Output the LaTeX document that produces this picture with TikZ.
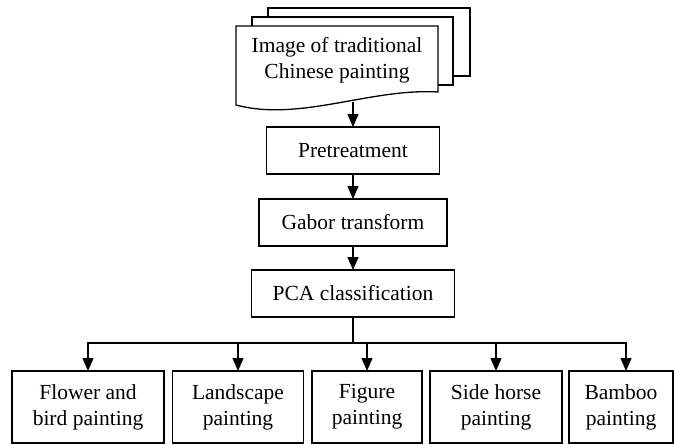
\documentclass[tikz,border=0pt]{standalone}
\usepackage{fontspec}
\setmainfont{Liberation Serif}
\usepackage{tikz}
\usetikzlibrary{arrows.meta}
\usetikzlibrary{positioning}

\tikzset{
  stepbox/.style={draw, line width=1.3pt, inner sep=0pt, outer sep=0pt,
    minimum height=47pt, align=center,
    font=\fontsize{21.5}{25.8}\selectfont},
  classbox/.style={stepbox, minimum height=72pt},
  flow/.style={line width=1.3pt, -{Triangle[width=11pt,length=13pt]}},
  sheet/.style={draw, line width=1.3pt, fill=white}
}

\begin{document}
\begin{tikzpicture}[x=1pt,y=-1pt]
\useasboundingbox (0,0) rectangle (674,444);

% stack of input images
\draw[sheet] (268,8) rectangle (470,76);
\draw[sheet] (252,17) rectangle (453,85);
\draw[sheet] (236,26) -- (438,26) -- (438,92)
   .. controls (370,88) and (300,122) .. (236,105) -- cycle;
\node[align=center, font=\fontsize{21.5}{25.8}\selectfont] (img) at (337,60)
   {Image of traditional\\Chinese painting};
\coordinate (imgbot) at (353,102);

% processing steps
\node[stepbox, minimum width=173pt] (pre) at (353,150.5) {Pretreatment};
\node[stepbox, minimum width=188pt] (gab) at (353,222.5) {Gabor transform};
\node[stepbox, minimum width=203pt] (pca) at (353,293.5) {PCA classification};

% painting classes
\node[classbox, minimum width=152pt] (flower) at (88,407) {Flower and\\bird painting};
\node[classbox, minimum width=131pt] (land) at (238,407) {Landscape\\painting};
\node[classbox, minimum width=110pt] (fig) at (367,407) {Figure\\painting};
\node[classbox, minimum width=132pt] (horse) at (496,407) {Side horse\\painting};
\node[classbox, minimum width=104pt] (bamboo) at (621,407) {Bamboo\\painting};

\coordinate (bus) at (353,343);

\draw[flow] (imgbot) -- (pre.north -| imgbot);
\draw[flow] (pre) -- (gab);
\draw[flow] (gab) -- (pca);
\draw[line width=1.3pt] (pca.south) -- (bus);
\foreach \k in {flower,land,fig,horse}
  \draw[flow] (bus) -| (\k.north);
\draw[flow] (bus) -| ([xshift=5pt]bamboo.north);

\end{tikzpicture}
\end{document}
